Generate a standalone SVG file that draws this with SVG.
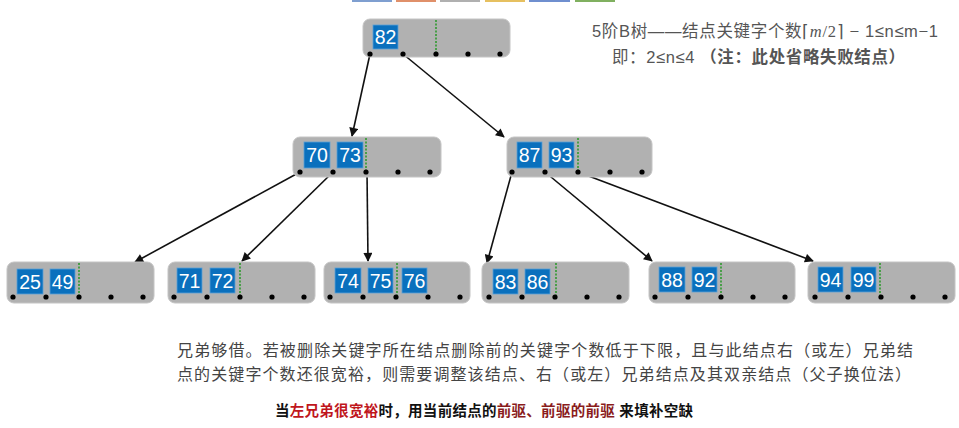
<svg xmlns="http://www.w3.org/2000/svg" width="959" height="428" viewBox="0 0 959 428">
<style>
.nd{fill:#b1b1b1;stroke:#c4c4c4;stroke-width:1}
.k{fill:#0a70bd;stroke:#5aa0d8;stroke-width:0.8}
.kt{fill:#fff;font-family:"Liberation Sans",Arial,sans-serif;font-size:19.5px;text-anchor:middle}
.g{stroke:#2f9a2f;stroke-width:1.6;stroke-dasharray:2 1.5}
.d{fill:#000}
.e{stroke:#111;stroke-width:1.6;fill:none;marker-end:url(#ah)}
.t{font-family:"Liberation Sans","Noto Sans CJK SC",sans-serif}
</style>
<defs>
<marker id="ah" viewBox="0 0 10 10" refX="9" refY="5" markerWidth="10" markerHeight="9" markerUnits="userSpaceOnUse" orient="auto">
<path d="M0,0 L10,5 L0,10 Z" fill="#111"/>
</marker>
<g id="dots">
<circle class="d" cx="0" cy="0" r="2.6"/><circle class="d" cx="33" cy="0" r="2.6"/><circle class="d" cx="66" cy="0" r="2.6"/><circle class="d" cx="98" cy="0" r="2.6"/><circle class="d" cx="130" cy="0" r="2.6"/>
</g>
</defs>
<rect width="959" height="428" fill="#fff"/>
<g id="topbar">
<rect x="352" y="0" width="40" height="2" fill="#7f9fd0"/>
<rect x="396" y="0" width="40" height="2" fill="#e0906a"/>
<rect x="440" y="0" width="40" height="2" fill="#b0b0b0"/>
<rect x="485" y="0" width="40" height="2" fill="#e6c060"/>
<rect x="529" y="0" width="41" height="2" fill="#6f8fcf"/>
<rect x="575" y="0" width="40" height="2" fill="#80b060"/>
</g>
<g id="connectors">
<line class="e" x1="370" y1="54" x2="352" y2="136"/>
<line class="e" x1="403" y1="54" x2="504" y2="137"/>
<line class="e" x1="300" y1="172" x2="135" y2="262"/>
<line class="e" x1="333" y1="172" x2="242" y2="261"/>
<line class="e" x1="367" y1="172" x2="368" y2="261"/>
<line class="e" x1="512" y1="172" x2="487" y2="263"/>
<line class="e" x1="545" y1="172" x2="652" y2="261"/>
<line class="e" x1="578" y1="172" x2="813" y2="261"/>
</g>
<g id="root">
<rect class="nd" x="363" y="19" width="147" height="38" rx="7"/>
<line class="g" x1="436" y1="20" x2="436" y2="52"/>
<rect class="k" x="373" y="25" width="25" height="24"/>
<text class="kt" x="385.5" y="44">82</text>
<use href="#dots" x="370" y="54"/>
</g>
<g id="nodeA">
<rect class="nd" x="293" y="137" width="148" height="40" rx="7"/>
<line class="g" x1="366" y1="138" x2="366" y2="170"/>
<rect class="k" x="304" y="142" width="26" height="26"/>
<text class="kt" x="317" y="162">70</text>
<rect class="k" x="337" y="142" width="26" height="26"/>
<text class="kt" x="350" y="162">73</text>
<use href="#dots" x="300" y="172"/>
</g>
<g id="nodeB">
<rect class="nd" x="507" y="137" width="145" height="40" rx="7"/>
<line class="g" x1="578" y1="138" x2="578" y2="170"/>
<rect class="k" x="517" y="142" width="25" height="26"/>
<text class="kt" x="529.5" y="162">87</text>
<rect class="k" x="549" y="142" width="25" height="26"/>
<text class="kt" x="561.5" y="162">93</text>
<use href="#dots" x="512" y="172"/>
</g>
<g id="leaf1">
<rect class="nd" x="7" y="262" width="147" height="41" rx="7"/>
<line class="g" x1="79" y1="263" x2="79" y2="295"/>
<rect class="k" x="17" y="269" width="26" height="25"/>
<text class="kt" x="30" y="288.5">25</text>
<rect class="k" x="50" y="269" width="25" height="25"/>
<text class="kt" x="62.5" y="288.5">49</text>
<use href="#dots" x="13" y="297"/>
</g>
<g id="leaf2">
<rect class="nd" x="168" y="262" width="147" height="41" rx="7"/>
<line class="g" x1="240" y1="263" x2="240" y2="295"/>
<rect class="k" x="177" y="268" width="25" height="25"/>
<text class="kt" x="189.5" y="287.5">71</text>
<rect class="k" x="210" y="268" width="25" height="25"/>
<text class="kt" x="222.5" y="287.5">72</text>
<use href="#dots" x="174" y="297"/>
</g>
<g id="leaf3">
<rect class="nd" x="324" y="262" width="146" height="41" rx="7"/>
<line class="g" x1="397" y1="263" x2="397" y2="295"/>
<rect class="k" x="335" y="268" width="26" height="25"/>
<text class="kt" x="348" y="287.5">74</text>
<rect class="k" x="368" y="268" width="25" height="25"/>
<text class="kt" x="380.5" y="287.5">75</text>
<rect class="k" x="402" y="268" width="25" height="25"/>
<text class="kt" x="414.5" y="287.5">76</text>
<use href="#dots" x="330" y="297"/>
</g>
<g id="leaf4">
<rect class="nd" x="482" y="262" width="147" height="41" rx="7"/>
<line class="g" x1="556" y1="263" x2="556" y2="295"/>
<rect class="k" x="493" y="269" width="25" height="25"/>
<text class="kt" x="505.5" y="288.5">83</text>
<rect class="k" x="525" y="269" width="25" height="25"/>
<text class="kt" x="537.5" y="288.5">86</text>
<use href="#dots" x="489" y="297"/>
</g>
<g id="leaf5">
<rect class="nd" x="649" y="262" width="146" height="41" rx="7"/>
<line class="g" x1="721" y1="263" x2="721" y2="295"/>
<rect class="k" x="659" y="267" width="26" height="25"/>
<text class="kt" x="672" y="286.5">88</text>
<rect class="k" x="692" y="267" width="25" height="25"/>
<text class="kt" x="704.5" y="286.5">92</text>
<use href="#dots" x="655" y="297"/>
</g>
<g id="leaf6">
<rect class="nd" x="808" y="262" width="147" height="41" rx="7"/>
<line class="g" x1="880" y1="263" x2="880" y2="295"/>
<rect class="k" x="818" y="267" width="25" height="25"/>
<text class="kt" x="830.5" y="286.5">94</text>
<rect class="k" x="851" y="267" width="25" height="25"/>
<text class="kt" x="863.5" y="286.5">99</text>
<use href="#dots" x="815" y="297"/>
</g>
<g id="texts">
<text class="t" x="592" y="37" font-size="16.5" fill="#555" textLength="346" lengthAdjust="spacing">5阶B树——结点关键字个数<tspan font-family="'Liberation Serif',serif">⌈<tspan font-style="italic">m</tspan>/2⌉</tspan> − 1≤n≤m−1</text>
<text class="t" x="612" y="63" font-size="16.5" fill="#555" textLength="293" lengthAdjust="spacing">即：2≤n≤4 <tspan font-weight="bold">（注：此处省略失败结点）</tspan></text>
<text class="t" x="177" y="356" font-size="16" fill="#444" textLength="736" lengthAdjust="spacing">兄弟够借。若被删除关键字所在结点删除前的关键字个数低于下限，且与此结点右（或左）兄弟结</text>
<text class="t" x="177" y="380" font-size="16" fill="#444" textLength="734" lengthAdjust="spacing">点的关键字个数还很宽裕，则需要调整该结点、右（或左）兄弟结点及其双亲结点（父子换位法）</text>
<text class="t" x="275" y="416" font-size="14.5" font-weight="bold" fill="#111" textLength="418" lengthAdjust="spacing">当<tspan fill="#c0161c">左兄弟很宽裕</tspan>时，用当前结点的<tspan fill="#8a1c1c">前驱、前驱的前驱</tspan> 来填补空缺</text>
</g>
</svg>
